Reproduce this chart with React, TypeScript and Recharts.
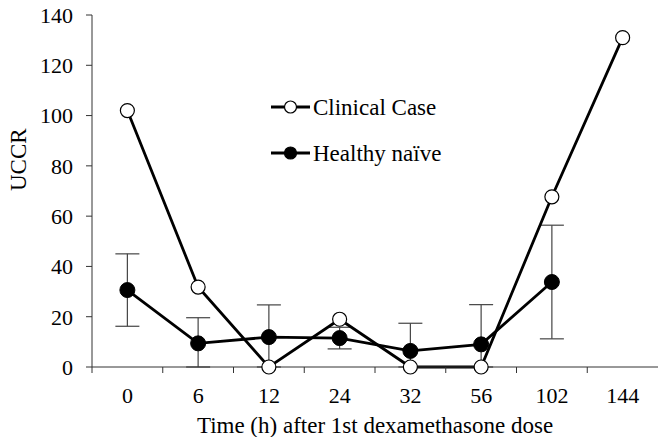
import React from "react";
import { LineChart, Line, XAxis, YAxis, ErrorBar } from "recharts";

const hours = ["0", "6", "12", "24", "32", "56", "102", "144"];
const clinicalCase = [102, 31.8, 0, 19, 0, 0, 67.7, 131];
const healthyNaive = [30.6, 9.4, 11.9, 11.5, 6.4, 9.0, 33.8, null];
// [below, above] the mean; lower whiskers stop at the x axis
const healthyErr: ([number, number] | null)[] = [
  [14.4, 14.4],
  [9.4, 10.2],
  [11.9, 12.8],
  [4.3, 4.3],
  [6.4, 11],
  [9.0, 15.8],
  [22.6, 22.6],
  null,
];
const yTicks = [0, 20, 40, 60, 80, 100, 120, 140];

const data = hours.map((h, i) => ({
  hour: h,
  clinical: clinicalCase[i],
  healthy: healthyNaive[i],
  err: healthyErr[i],
}));

const FONT = '"Liberation Serif", "Times New Roman", serif';
const AXIS = "#333";

function HourTick(props: any) {
  const { x, y, payload } = props;
  const half = payload.offset ?? 35.4;
  return (
    <g>
      <line x1={x - half} x2={x - half} y1={y} y2={y + 6} stroke={AXIS} strokeWidth={1} />
      <text x={x} y={y + 36} textAnchor="middle" fontSize={22} fontFamily={FONT} fill="#000">
        {payload.value}
      </text>
    </g>
  );
}

function LegendBox() {
  const rows = [
    { name: "Clinical Case", fill: "#fff" },
    { name: "Healthy naïve", fill: "#000" },
  ];
  return (
    <svg width={200} height={80} style={{ position: "absolute", left: 271, top: 95, overflow: "visible" }}>
      {rows.map((r, i) => (
        <g key={r.name} transform={`translate(0, ${i * 46})`}>
          <line x1={0} x2={39} y1={12} y2={12} stroke="#000" strokeWidth={2.8} />
          <circle cx={19.5} cy={12} r={6} fill={r.fill} stroke="#000" strokeWidth={1.2} />
          <text x={42} y={20} fontSize={23} fontFamily={FONT} fill="#000">
            {r.name}
          </text>
        </g>
      ))}
    </svg>
  );
}

export default function App() {
  return (
    <div style={{ position: "absolute", left: 0, top: 0, width: 658, height: 437, background: "#fff" }}>
      <LineChart width={658} height={437} data={data} margin={{ top: 15, right: 0, left: 0, bottom: 0 }}>
        <XAxis
          dataKey="hour"
          scale="band"
          height={70}
          stroke={AXIS}
          tickLine={false}
          tickSize={0}
          tickMargin={0}
          tick={<HourTick />}
          interval={0}
          label={{ value: "Time (h) after 1st dexamethasone dose", position: "insideBottom", offset: 4, fontSize: 23, fontFamily: FONT, fill: "#000" }}
        />
        <YAxis
          width={92}
          domain={[0, 140]}
          ticks={yTicks}
          stroke={AXIS}
          tickSize={6}
          tickMargin={13}
          tick={{ fontSize: 22, fontFamily: FONT, fill: "#000" }}
          label={{ value: "UCCR", angle: -90, position: "insideLeft", offset: 18, fontSize: 23, fontFamily: FONT, fill: "#000" }}
        />
        <Line
          dataKey="healthy"
          stroke="#000"
          strokeWidth={2.8}
          dot={{ r: 7.5, fill: "#000", stroke: "#000", strokeWidth: 1 }}
          isAnimationActive={false}
        >
          <ErrorBar dataKey="err" width={12} stroke="#444" strokeWidth={1.2} />
        </Line>
        <Line
          dataKey="clinical"
          stroke="#000"
          strokeWidth={2.8}
          dot={{ r: 7, fill: "#fff", stroke: "#000", strokeWidth: 1.2 }}
          isAnimationActive={false}
        />
      </LineChart>
      <LegendBox />
    </div>
  );
}
